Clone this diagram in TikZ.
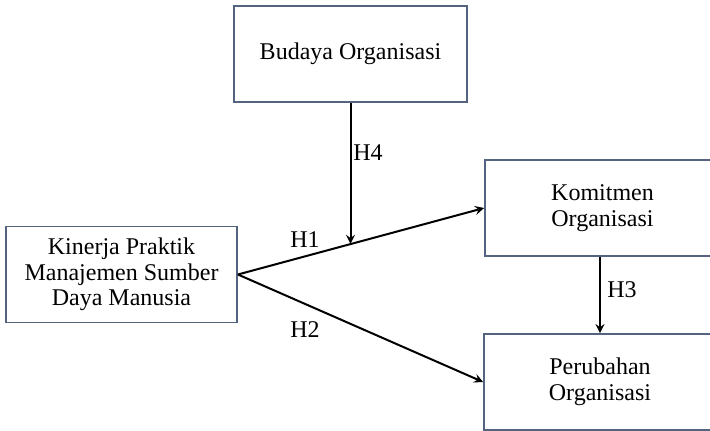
\documentclass[tikz,border=0pt]{standalone}
\usepackage{fontspec}
\setmainfont{Liberation Serif}
\usepackage{tikz}
\usetikzlibrary{arrows,positioning}

\definecolor{boxline}{RGB}{84,100,128}

\begin{document}
\begin{tikzpicture}[
  x=0.5pt, y=-0.5pt,
  every node/.style={font=\fontsize{12}{12.8}\selectfont, inner sep=1pt},
  varbox/.style={rectangle, draw=boxline, line width=0.9pt, align=center,
    minimum height=48pt},
  arr/.style={draw, ->, >=stealth, line width=1pt}
]
\useasboundingbox (0,0) rectangle (710,431);
\node[varbox, minimum width=116.5pt] (budaya) at (350.5,54) {Budaya Organisasi};
\node[varbox, minimum width=115.5pt] (kinerja) at (121.5,274.5) {Kinerja Praktik\\Manajemen Sumber\\Daya Manusia};
\node[varbox, minimum width=117.5pt] (komitmen) at (602.5,208) {Komitmen\\Organisasi};
\node[varbox, minimum width=116pt] (perubahan) at (600,382) {Perubahan\\Organisasi};

\draw[arr] (kinerja.east) -- (komitmen.west) coordinate[pos=0.46] (meet);
\draw[arr] (kinerja.east) -- (perubahan.west);
\draw[arr] (budaya.south) -- (budaya.south |- meet);
\draw[arr] (perubahan.north |- komitmen.south) -- (perubahan.north);

\node (h1) at (305,240) {H1};
\node (h2) at (305,330) {H2};
\node (h3) at (622,290) {H3};
\node (h4) at (368,153) {H4};
\end{tikzpicture}
\end{document}
